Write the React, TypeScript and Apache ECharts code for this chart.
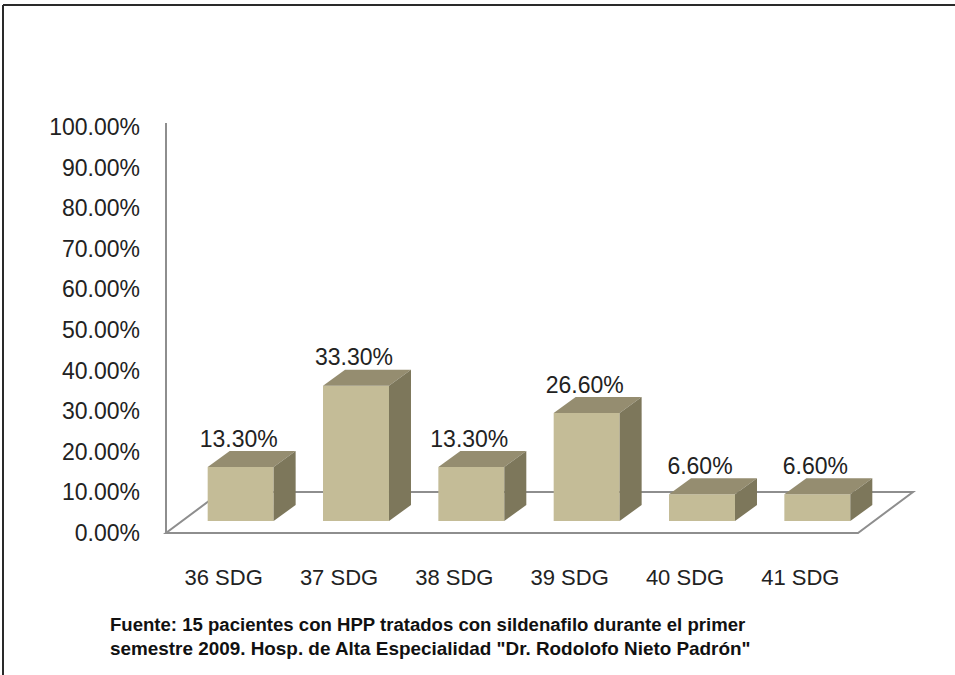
import React, { useEffect, useRef } from "react";
import * as echarts from "echarts";

// Gestational-age groups and share of patients in each (percent)
const categories: string[] = ["36 SDG", "37 SDG", "38 SDG", "39 SDG", "40 SDG", "41 SDG"];
const percentages: number[] = [13.3, 33.3, 13.3, 26.6, 6.6, 6.6];

// Value axis range and step (percent)
const yMin = 0;
const yMax = 100;
const yStep = 10;

const sourceLines: string[] = [
  "Fuente: 15 pacientes con HPP tratados con sildenafilo durante el primer",
  'semestre 2009. Hosp. de Alta Especialidad "Dr. Rodolofo Nieto Padrón"',
];

const FONT = '"Liberation Sans", Arial, sans-serif';
const FRONT = "#c4bc97";
const TOP = "#958d70";
const SIDE = "#7d775b";
const EDGE = "#8e8e8e";
const INK = "#222222";

// depth of the pseudo-3D boxes and floor
const DEPTH_X = 22;
const DEPTH_Y = 16;
const FLOOR_DX = 55;
const FLOOR_DY = 41;

function fitScale(text: string, font: string, target: number): number {
  const ctx = document.createElement("canvas").getContext("2d");
  if (!ctx) return 1;
  ctx.font = font;
  const w = ctx.measureText(text).width;
  return w > 0 ? target / w : 1;
}

export default function App() {
  const ref = useRef<HTMLDivElement>(null);

  useEffect(() => {
    if (!ref.current) return;
    const chart = echarts.init(ref.current, undefined, { renderer: "svg" });

    const noteFont = `bold 18px ${FONT}`;
    const noteScale1 = fitScale(sourceLines[0], noteFont, 636);
    const noteScale2 = fitScale(sourceLines[1], noteFont, 642);

    const barData = percentages.map((v, i) => [i, v]);

    chart.setOption({
      animation: false,
      backgroundColor: "#ffffff",
      grid: { left: 166, right: 97, top: 127, bottom: 142, containLabel: false },
      xAxis: {
        type: "category",
        data: categories,
        axisLine: { show: false },
        axisTick: { show: false },
        axisLabel: {
          color: INK,
          fontFamily: FONT,
          fontSize: 22,
          margin: 33,
        },
        splitLine: { show: false },
      },
      yAxis: {
        type: "value",
        min: yMin,
        max: yMax,
        interval: yStep,
        axisLine: { show: true, lineStyle: { color: EDGE, width: 2 } },
        axisTick: { show: false },
        splitLine: { show: false },
        axisLabel: {
          color: INK,
          fontFamily: FONT,
          fontSize: 23,
          margin: 26,
          formatter: (v: number) => `${v.toFixed(2)}%`,
        },
      },
      graphic: [
        {
          type: "line",
          shape: { x1: 3, y1: 5, x2: 955, y2: 5 },
          style: { stroke: "#2a2a2a", lineWidth: 2 },
        },
        {
          type: "line",
          shape: { x1: 3, y1: 5, x2: 3, y2: 675 },
          style: { stroke: "#2a2a2a", lineWidth: 2 },
        },
        {
          // vertical axis continues a little above the 100% tick
          type: "line",
          shape: { x1: 166, y1: 123, x2: 166, y2: 128 },
          style: { stroke: EDGE, lineWidth: 2 },
        },
        {
          type: "text",
          x: 110,
          y: 616,
          scaleX: noteScale1,
          style: { text: sourceLines[0], font: noteFont, fill: "#111111" },
        },
        {
          type: "text",
          x: 110,
          y: 640,
          scaleX: noteScale2,
          style: { text: sourceLines[1], font: noteFont, fill: "#111111" },
        },
      ],
      series: [
        {
          // floor of the plot area
          type: "custom",
          silent: true,
          clip: false,
          z: 1,
          data: [[0, 0]],
          encode: { x: 0, y: 1 },
          renderItem: (params: any) => {
            const cs = params.coordSys;
            const fy = cs.y + cs.height;
            const fl: [number, number] = [cs.x, fy];
            const fr: [number, number] = [cs.x + cs.width, fy];
            const br: [number, number] = [fr[0] + FLOOR_DX, fy - FLOOR_DY];
            const bl: [number, number] = [fl[0] + FLOOR_DX, fy - FLOOR_DY];
            return {
              type: "polygon",
              shape: { points: [fl, fr, br, bl] },
              style: { fill: "none", stroke: EDGE, lineWidth: 2 },
            };
          },
        },
        {
          type: "custom",
          clip: false,
          z: 2,
          data: barData,
          encode: { x: 0, y: 1 },
          renderItem: (params: any, api: any) => {
            const i = api.value(0);
            const v = api.value(1);
            const top = api.coord([i, v]);
            const base = api.coord([i, 0]);
            const bw = api.size([1, 0])[0] * 0.572;
            const cx = top[0] + 17;
            const x0 = cx - bw / 2;
            const x1 = cx + bw / 2;
            const yb = base[1] - 12;
            const yt = top[1] - 12;
            return {
              type: "group",
              children: [
                {
                  type: "rect",
                  shape: { x: x0, y: yt, width: bw, height: yb - yt },
                  style: { fill: FRONT },
                },
                {
                  type: "polygon",
                  shape: {
                    points: [
                      [x0, yt],
                      [x1, yt],
                      [x1 + DEPTH_X, yt - DEPTH_Y],
                      [x0 + DEPTH_X, yt - DEPTH_Y],
                    ],
                  },
                  style: { fill: TOP },
                },
                {
                  type: "polygon",
                  shape: {
                    points: [
                      [x1, yt],
                      [x1 + DEPTH_X, yt - DEPTH_Y],
                      [x1 + DEPTH_X, yb - DEPTH_Y],
                      [x1, yb],
                    ],
                  },
                  style: { fill: SIDE },
                },
                {
                  type: "text",
                  style: {
                    text: `${v.toFixed(2)}%`,
                    x: cx - 2,
                    y: yt - DEPTH_Y - 1,
                    align: "center",
                    verticalAlign: "bottom",
                    font: `23px ${FONT}`,
                    fill: INK,
                  },
                },
              ],
            };
          },
        },
      ],
    });

    return () => chart.dispose();
  }, []);

  return (
    <div
      ref={ref}
      style={{ position: "fixed", left: 0, top: 0, width: 955, height: 675, background: "#fff" }}
    />
  );
}
